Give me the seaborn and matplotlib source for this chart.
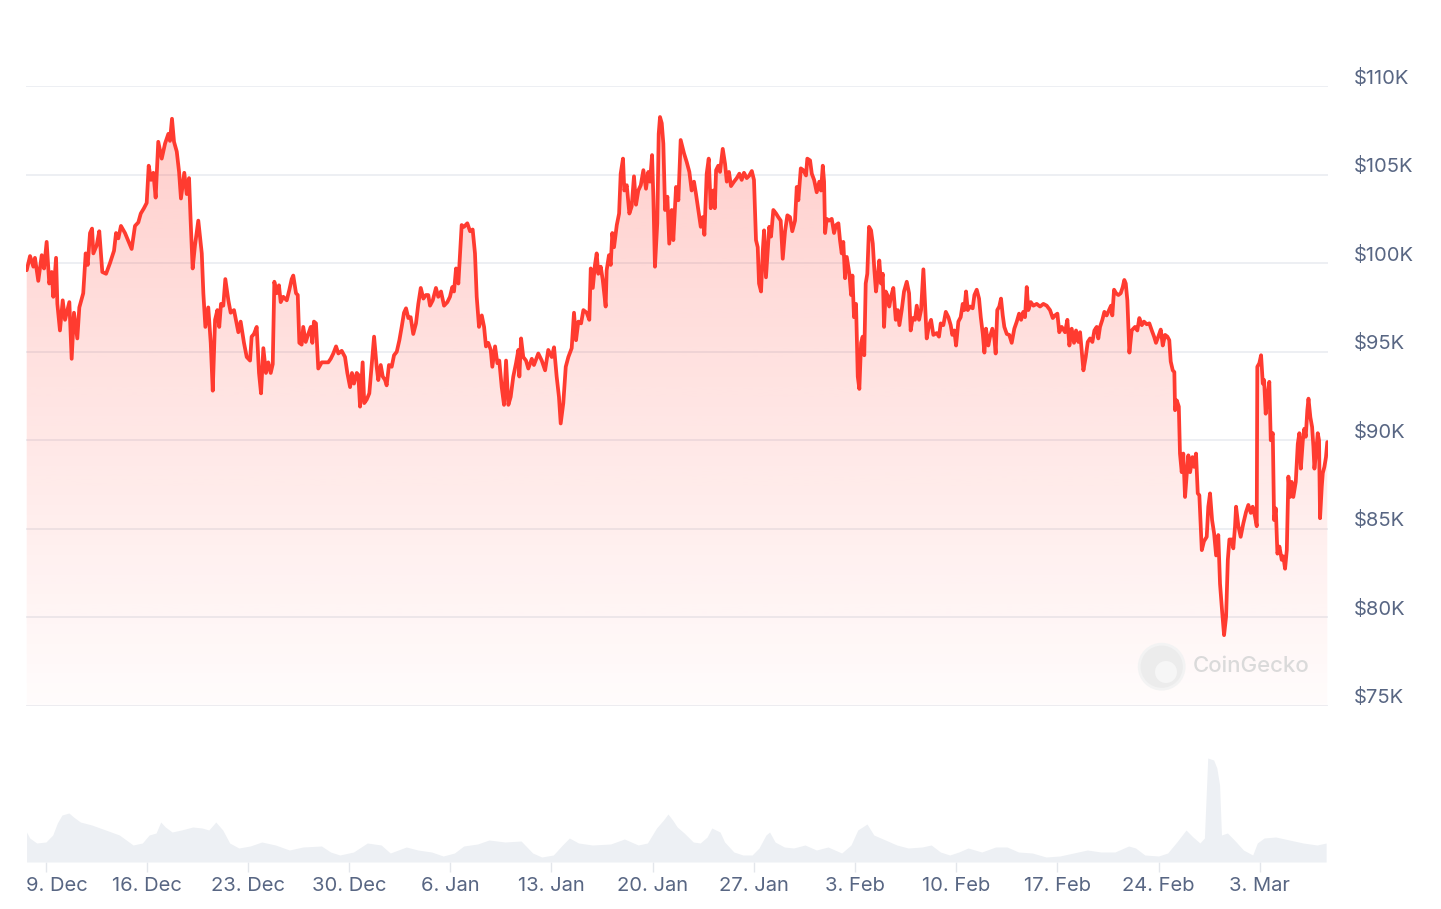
import numpy as np
import pandas as pd
import matplotlib
matplotlib.use("Agg")
import matplotlib.pyplot as plt
import matplotlib.dates as mdates
from matplotlib.patches import Polygon, Circle
import seaborn as sns

# ---------------- data ----------------
START = "2024-12-09"
# days since 9 Dec 2024 00:00
price_days = [
    -1.30, -1.07, -0.84, -0.73, -0.50, -0.26, -0.10, 0.08, 0.26, 0.43, 0.54, 0.73, 0.82, 1.00, 1.19, 1.35,
    1.65, 1.81, 1.97, 2.20, 2.34, 2.61, 2.78, 2.92, 3.08, 3.22, 3.31, 3.54, 3.72, 3.93, 4.19, 4.46, 4.74,
    4.88, 5.04, 5.22, 5.50, 5.96, 6.19, 6.42, 6.59, 6.81, 7.00, 7.14, 7.30, 7.46, 7.62, 7.80, 8.04, 8.27,
    8.50, 8.61, 8.75, 8.89, 9.08, 9.24, 9.37, 9.60, 9.77, 9.93, 10.04, 10.11, 10.18, 10.34, 10.57, 10.81,
    10.92, 11.06, 11.26, 11.43, 11.57, 11.73, 11.89, 12.02, 12.14, 12.30, 12.44, 12.65, 12.81, 13.04,
    13.34, 13.50, 13.73, 13.92,
    14.15, 14.26, 14.42, 14.61, 14.77, 14.91, 15.07, 15.25, 15.41, 15.58, 15.72, 15.83, 15.99, 16.15,
    16.27, 16.45, 16.69, 16.87, 17.03, 17.14, 17.33, 17.45, 17.56, 17.72, 17.83, 18.00, 18.18, 18.35,
    18.46, 18.57, 18.71, 18.87, 19.11, 19.34, 19.56, 19.73, 19.91, 20.10, 20.26, 20.49, 20.72, 20.88,
    21.07, 21.20, 21.34, 21.53, 21.64, 21.76, 21.94, 22.05, 22.22, 22.40, 22.52, 22.73, 22.91, 23.02,
    23.19, 23.33, 23.49, 23.60, 23.76, 23.95, 24.11, 24.30, 24.48, 24.64, 24.80, 24.94, 25.10, 25.26,
    25.44, 25.63, 25.79, 25.96, 26.14, 26.32, 26.48, 26.60, 26.79, 27.01, 27.17, 27.36, 27.57, 27.80,
    27.98, 28.14, 28.26, 28.40, 28.56,
    28.79, 28.95, 29.18, 29.37, 29.55, 29.71, 29.83, 29.99, 30.18, 30.34, 30.47, 30.63, 30.80, 30.91,
    31.10, 31.26, 31.39, 31.56, 31.72, 31.86, 32.02, 32.18, 32.36, 32.55, 32.71, 32.78, 32.90, 33.05,
    33.24, 33.40, 33.64, 33.79, 34.09, 34.33, 34.56, 34.78, 35.02, 35.18, 35.36, 35.52, 35.64, 35.82,
    35.99, 36.17, 36.40, 36.56, 36.70, 36.86, 37.05, 37.21, 37.44, 37.62, 37.72, 37.86, 38.01, 38.13,
    38.24, 38.41, 38.55, 38.75, 38.82, 38.98, 39.10, 39.21, 39.33, 39.52, 39.68, 39.79, 39.95, 40.04,
    40.21, 40.39, 40.55, 40.71, 40.85, 41.01, 41.18, 41.36, 41.54, 41.70, 41.82, 41.96, 42.05, 42.16,
    42.32, 42.42, 42.51, 42.63, 42.74, 42.86, 43.02, 43.15, 43.32, 43.43, 43.62, 43.78, 43.94,
    44.17, 44.36, 44.54, 44.70, 44.86, 45.00, 45.16, 45.33, 45.47, 45.58, 45.74, 45.88, 46.02, 46.20,
    46.30, 46.39, 46.54, 46.66, 46.85, 47.01, 47.13, 47.28, 47.42, 47.63, 47.82, 48.00, 48.16, 48.32,
    48.51, 48.69, 48.86, 49.01, 49.15, 49.27, 49.36, 49.50, 49.62, 49.71, 49.84, 49.96, 50.07, 50.19,
    50.35, 50.54, 50.69, 50.86, 51.00, 51.16, 51.32, 51.50, 51.66, 51.85, 51.97, 52.08, 52.25, 52.42,
    52.61, 52.70, 52.89, 53.01, 53.17, 53.35, 53.53, 53.65, 53.77, 53.86, 53.93, 54.04, 54.20, 54.39,
    54.55, 54.69, 54.85, 54.96, 55.08, 55.19, 55.31, 55.43, 55.61, 55.73, 55.82, 55.93, 56.07, 56.19,
    56.30, 56.42, 56.53, 56.64, 56.74, 56.85, 56.97, 57.11, 57.23, 57.34, 57.45, 57.57, 57.68, 57.80,
    57.92, 58.01, 58.12, 58.24, 58.37, 58.49, 58.65, 58.82, 58.96, 59.07, 59.23, 59.39, 59.58,
    59.74, 59.85, 59.99, 60.15, 60.27, 60.43, 60.57, 60.73, 60.84, 60.96, 61.12, 61.26, 61.42, 61.65,
    61.81, 61.93, 62.11, 62.28, 62.46, 62.62, 62.73, 62.87, 62.99, 63.15, 63.31, 63.45, 63.56, 63.68,
    63.80, 63.96, 64.14, 64.26, 64.42, 64.58, 64.70, 64.84, 64.95, 65.06, 65.22, 65.34, 65.50, 65.64,
    65.73, 65.84, 65.98, 66.10, 66.22, 66.33, 66.50, 66.67, 66.84, 67.02, 67.19, 67.35, 67.49, 67.64,
    67.76, 67.88, 67.99, 68.16, 68.34, 68.57, 68.80, 69.03, 69.26, 69.49, 69.68, 69.84, 70.00, 70.13,
    70.30, 70.53, 70.69, 70.83, 70.99, 71.15, 71.29, 71.45, 71.57, 71.68, 71.80, 71.96, 72.10, 72.26,
    72.42, 72.56, 72.72, 72.83, 72.95, 73.11, 73.25, 73.41, 73.57, 73.71, 73.80, 73.92, 74.06, 74.22,
    74.38, 74.52, 74.63, 74.73, 74.84,
    74.98, 75.14, 75.37, 75.53, 75.67, 75.84, 75.99, 76.18, 76.36, 76.53, 76.69, 76.82, 76.98, 77.15,
    77.29, 77.45, 77.61, 77.74, 77.84, 77.98, 78.09, 78.14, 78.26, 78.40, 78.48, 78.60, 78.71, 78.83,
    78.95, 79.06, 79.18, 79.34, 79.45, 79.59, 79.71, 79.82, 79.99, 80.14, 80.33, 80.44, 80.56, 80.70,
    80.84, 80.98, 81.13, 81.25, 81.39, 81.53, 81.67, 81.79, 81.90, 82.06, 82.17, 82.29, 82.36, 82.52,
    82.68, 82.86, 83.05, 83.21, 83.38, 83.51, 83.67, 83.79, 83.83, 83.97, 84.09, 84.21, 84.30, 84.41,
    84.53, 84.66, 84.76, 84.90, 84.99, 85.11, 85.22, 85.36, 85.52, 85.63, 85.75, 85.87, 85.98, 86.09,
    86.21, 86.32, 86.49, 86.63, 86.74, 86.84, 86.98, 87.08, 87.18, 87.29, 87.37, 87.50, 87.62, 87.71,
    87.78, 87.89, 88.01, 88.10, 88.17, 88.29, 88.36, 88.47, 88.58, 88.67,
]
# price in thousands of US dollars
price_k = [
    99.6, 100.4, 99.8, 100.3, 99.0, 100.45, 99.7, 101.2, 98.85, 99.5, 98.1, 100.3, 97.7, 96.2, 97.9, 96.8,
    97.8, 94.6, 97.2, 95.75, 97.5, 98.3, 100.55, 99.9, 101.7, 101.95, 100.55, 101.0, 101.8, 99.5, 99.4,
    100.0, 100.7, 101.7, 101.4, 102.1, 101.7, 100.8, 102.1, 102.3, 102.8, 103.1, 103.4, 105.5, 104.7,
    105.1, 103.7, 106.85, 105.9, 106.75, 107.3, 106.9, 108.15, 106.85, 106.3, 105.15, 103.65, 105.1,
    103.9, 104.8, 102.4, 101.1, 99.7, 101.0, 102.4, 100.55, 98.3, 96.4, 97.5, 95.5, 92.8, 96.8, 97.35,
    96.4, 97.7, 97.6, 99.1, 97.9, 97.2, 97.35, 96.1, 96.7, 95.5, 94.7,
    94.5, 95.85, 96.0, 96.4, 93.8, 92.65, 95.2, 93.8, 94.4, 93.8, 94.3, 98.95, 98.3, 98.75, 97.8, 98.1,
    97.9, 98.5, 99.1, 99.3, 98.3, 98.2, 95.5, 95.4, 96.4, 95.55, 96.0, 96.4, 95.5, 96.7, 96.6, 94.05,
    94.4, 94.4, 94.4, 94.6, 94.9, 95.3, 94.9, 95.05, 94.7, 93.8, 93.0, 93.8, 93.2, 93.8, 93.7, 91.9,
    94.4, 92.1, 92.3, 92.65, 93.8, 95.85, 94.15, 93.4, 94.25, 93.6, 93.4, 93.1, 94.25, 94.15, 94.8,
    95.0, 95.65, 96.4, 97.2, 97.45, 96.9, 96.95, 96.0, 96.6, 97.7, 98.6, 98.0, 98.2, 98.2, 97.6, 97.9,
    98.6, 98.1, 98.4, 97.6, 97.8, 98.1, 98.65, 98.4, 99.7, 98.85,
    102.15, 102.05, 102.25, 101.8, 101.9, 100.55, 98.1, 96.4, 97.05, 96.4, 95.3, 95.5, 95.1, 94.15,
    95.3, 94.35, 94.5, 93.0, 92.0, 94.5, 92.0, 92.45, 93.6, 94.35, 95.1, 93.6, 95.75, 94.7, 94.5,
    94.05, 94.6, 94.25, 94.9, 94.5, 93.95, 95.1, 94.7, 95.25, 93.6, 92.45, 90.95, 92.1, 94.15, 94.7,
    95.2, 97.2, 95.65, 96.7, 96.6, 97.35, 97.2, 96.8, 99.7, 98.6, 99.9, 100.55, 99.4, 99.8, 99.05,
    97.55, 99.6, 100.45, 99.9, 101.7, 100.9, 102.15, 102.8, 105.05, 105.9, 104.1, 104.4, 102.8, 103.2,
    104.9, 103.3, 104.1, 104.4, 105.25, 104.2, 105.15, 104.6, 106.1, 103.75, 99.8, 102.25, 107.3,
    108.25, 107.9, 106.75, 103.0, 103.75, 101.1, 103.0, 101.3, 104.3, 103.55, 106.95,
    106.2, 105.7, 105.15, 104.1, 104.6, 103.9, 103.0, 102.05, 102.6, 101.6, 105.05, 105.9, 103.1,
    104.1, 103.1, 105.25, 105.5, 105.15, 106.45, 105.6, 104.6, 105.15, 104.35, 104.6, 104.8, 105.05,
    104.7, 105.1, 104.8, 104.95, 105.2, 104.7, 101.3, 100.9, 98.85, 98.4, 100.7, 101.85, 99.2, 100.7,
    102.05, 101.5, 103.0, 102.8, 102.6, 102.4, 100.25, 101.8, 102.7, 102.6, 101.8, 102.4, 104.3,
    103.55, 105.35, 105.25, 104.95, 105.9, 105.8, 105.05, 104.7, 104.0, 104.6, 104.1, 105.5, 104.6,
    101.7, 102.5, 102.4, 102.5, 101.7, 102.15, 102.25, 101.3, 100.55, 101.2, 99.15, 100.35, 99.4,
    98.2, 99.3, 96.95, 97.7, 93.6, 92.9, 95.5, 95.85, 94.8, 98.85, 99.4, 102.05, 101.85, 101.1, 99.6,
    98.4, 99.2, 100.15, 98.85, 99.4, 96.4, 98.4, 98.2, 97.55, 98.1, 98.6, 96.8, 97.35, 96.5, 97.35,
    98.4, 98.95,
    98.3, 96.2, 96.9, 96.8, 97.6, 96.8, 97.35, 99.65, 97.8, 95.75, 96.5, 96.8, 95.95, 96.05, 95.85,
    96.6, 96.5, 97.25, 96.95, 96.5, 95.95, 96.2, 95.35, 96.7, 96.95, 97.7, 97.35, 98.4, 97.35, 97.55,
    97.45, 98.2, 98.5, 98.0, 96.95, 96.0, 94.95, 96.3, 95.35, 95.85, 96.3, 95.75, 94.9, 97.35, 97.55,
    98.0, 97.05, 96.4, 96.0, 95.95, 95.5, 96.3, 96.7, 97.15, 96.8, 97.25, 96.95, 98.65, 97.35, 97.8,
    97.6, 97.7, 97.55, 97.7, 97.6, 97.35, 96.9, 97.05, 97.15, 96.1, 96.4, 96.1, 96.8, 95.35, 96.3,
    95.5, 96.2, 95.55, 96.1, 95.1, 93.95, 94.7, 95.55, 95.75, 95.55, 96.2, 96.4, 95.75, 96.4, 96.8,
    97.25, 97.05, 97.35, 97.6, 97.05, 98.5, 98.3, 98.2, 98.3, 98.65, 99.05, 98.85, 97.9,
    94.95, 96.2, 96.4, 96.2, 96.9, 96.5, 96.7, 96.55, 96.6, 96.2, 95.85, 95.5, 95.85, 96.25, 95.35,
    95.95, 95.85, 95.65, 94.45, 93.95, 93.85, 91.7, 92.25, 91.9, 89.25, 88.2, 89.25, 86.8, 88.1,
    89.15, 88.2, 89.05, 88.5, 89.25, 87.0, 86.9, 83.8, 84.3, 84.55, 86.25, 87.0, 85.5, 84.75, 83.5,
    84.65, 81.9, 80.4, 79.0, 80.05, 83.25, 84.4, 84.4, 83.9, 85.15, 86.25, 85.15, 84.55, 85.3, 85.95,
    86.35, 85.9, 86.25, 85.7, 85.15, 94.15, 94.35, 94.8, 93.2, 93.4, 91.5, 92.45, 93.3, 90.0, 90.4,
    85.5, 86.15, 83.6, 84.0, 83.25, 83.45, 82.75, 83.8, 87.95, 86.8, 87.65, 86.8, 87.65, 89.8, 90.4,
    88.4, 90.0, 90.65, 90.2, 91.7, 92.35, 91.3, 90.75, 89.65, 88.4, 89.25, 90.4, 90.0, 85.6, 87.4,
    88.15, 88.5, 89.05, 89.9,
]

# 24h traded volume (billions of US dollars, relative scale of the lower panel)
volume_days = [
    -1.31, -1.09, -0.61, 0.03, 0.50, 0.82, 1.14, 1.62, 1.94, 2.41, 3.20, 4.16, 5.11, 6.06, 6.70, 7.17,
    7.65, 7.97, 8.29, 8.76, 9.40, 10.19, 10.83, 11.30, 11.78, 12.26, 12.74, 13.37, 14.16, 14.96, 15.91,
    16.87, 17.81, 19.09, 19.72, 20.36, 21.31, 22.26, 23.22, 23.85, 24.96, 25.76, 26.71, 27.51, 28.29,
    28.93, 29.89, 30.68, 31.79, 32.90, 33.70, 34.33, 35.13, 35.76, 36.24, 36.87, 37.83, 39.09, 40.05,
    41.00, 41.64, 42.27, 42.75, 43.06, 43.38, 43.70, 44.18, 44.81, 45.29, 45.77, 46.09, 46.66, 46.98,
    47.62, 48.25, 48.88, 49.36, 49.84, 50.09, 50.47, 51.11, 51.75, 52.54, 53.33, 54.13, 55.08, 55.72,
    56.19, 56.83, 57.30, 58.10, 58.89, 59.68, 60.64, 61.27, 61.91, 62.55, 63.18, 63.82, 64.77, 65.72,
    66.52, 67.31, 68.26, 69.22, 70.17, 71.12, 72.07, 73.02, 73.98, 74.93, 75.41, 76.05, 77.00, 77.63,
    78.26, 78.90, 79.38, 79.86, 80.17, 80.40, 80.81, 81.03, 81.22, 81.35, 81.76, 82.24, 82.87, 83.51,
    83.83, 84.30, 85.10, 86.05, 87.00, 87.96, 88.59,
]
volume_b = [
    30, 24, 19, 20, 27, 39, 47, 49, 45, 40, 37, 32, 27, 17, 19, 27, 29, 40, 35, 30, 32, 35, 34, 32, 40,
    32, 19, 14, 16, 20, 17, 12, 15, 16, 10, 7, 10, 19, 17, 9, 15, 12, 10, 6, 9, 16, 18, 22, 20, 21, 9,
    5, 7, 17, 24, 19, 17, 18, 23, 17, 19, 34, 42, 48, 42, 35, 29, 20, 19, 25, 34, 30, 20, 10, 7, 7, 14,
    27, 30, 20, 15, 14, 17, 12, 15, 9, 17, 32, 38, 27, 22, 17, 14, 15, 17, 10, 7, 10, 14, 10, 15, 15,
    10, 9, 5, 6, 9, 12, 10, 10, 16, 14, 7, 6, 9, 20, 32, 25, 19, 24, 104, 102, 94, 77, 27, 29, 22, 12,
    7, 19, 24, 25, 22, 19, 17, 19,
]

y_ticks = [75, 80, 85, 90, 95, 100, 105, 110]
y_labels = ["$75K", "$80K", "$85K", "$90K", "$95K", "$100K", "$105K", "$110K"]
x_ticks = list(pd.date_range(START, periods=13, freq="7D"))
x_labels = ["9. Dec", "16. Dec", "23. Dec", "30. Dec", "6. Jan", "13. Jan", "20. Jan",
            "27. Jan", "3. Feb", "10. Feb", "17. Feb", "24. Feb", "3. Mar"]

# ---------------- style ----------------
sns.set_theme(style="white")
plt.rcParams["font.family"] = ["Inter", "DejaVu Sans"]

LINE = "#ff3b30"
TEXT = "#586683"
GRID = "#eceef2"
VOL = "#edf0f4"
FS = 14.5

base = pd.Timestamp(START)
price_df = pd.DataFrame({
    "time": base + pd.to_timedelta(price_days, unit="D"),
    "price": price_k,
})
vol_df = pd.DataFrame({
    "time": base + pd.to_timedelta(volume_days, unit="D"),
    "volume": volume_b,
})

W, H = 1441, 909
fig = plt.figure(figsize=(W / 100, H / 100), dpi=100)
fig.patch.set_facecolor("white")

left, right = 26, 1328
ax = fig.add_axes([left / W, (H - 706) / H, (right - left) / W, 620 / H])
axv = fig.add_axes([left / W, (H - 862) / H, (right - left) / W, 150 / H], sharex=ax)
axv.patch.set_alpha(0)
ax.patch.set_alpha(0)

x0 = base + pd.Timedelta(days=-1.349)
x1 = base + pd.Timedelta(days=88.72)

# volume panel
axv.fill_between(vol_df["time"], 0, vol_df["volume"], color=VOL, lw=0, zorder=1)
axv.set_ylim(0, 150)

# price gradient fill
tnum = mdates.date2num(price_df["time"])
verts = np.column_stack([
    np.concatenate([tnum, [tnum[-1], tnum[0]]]),
    np.concatenate([price_df["price"].values, [75, 75]]),
])
clip = Polygon(verts, closed=True, transform=ax.transData, facecolor="none", edgecolor="none")
ax.add_patch(clip)
grad = np.zeros((256, 1, 4))
rgb = np.array([255, 59, 48]) / 255.0
grad[:, 0, :3] = rgb
grad[:, 0, 3] = np.linspace(0.015, 0.26, 256)
im = ax.imshow(grad, extent=[mdates.date2num(x0), mdates.date2num(x1), 75, 110],
               aspect="auto", origin="lower", zorder=1, interpolation="bilinear")
im.set_clip_path(clip)

sns.lineplot(data=price_df, x="time", y="price", ax=ax, color=LINE, lw=2.7,
             estimator=None, sort=False, zorder=3)
for ln in ax.get_lines():
    ln.set_solid_joinstyle("round")

ax.set_xlim(x0, x1)
ax.set_ylim(75, 110)
ax.set_yticks(y_ticks)
ax.set_yticklabels([])
ax.tick_params(axis="y", length=0)
ax.tick_params(axis="x", which="both", bottom=False, labelbottom=False)
ax.grid(axis="y", color=GRID, lw=1.3)
ax.grid(axis="x", visible=False)
ax.set_axisbelow(True)
ax.set_xlabel("")
ax.set_ylabel("")
for s in ax.spines.values():
    s.set_visible(False)

ytrans = ax.get_yaxis_transform()
for v, lab in zip(y_ticks, y_labels):
    ax.annotate(lab, xy=((1354 - left) / (right - left), v), xycoords=ytrans,
                xytext=(0, 8 * 0.72), textcoords="offset points",
                ha="left", va="center", fontsize=FS, color=TEXT, annotation_clip=False)

# volume axis / x ticks
axv.set_xticks(x_ticks)
axv.set_xticklabels([])
axv.tick_params(axis="x", length=7.5, width=1, color="#e3e6eb", bottom=True, labelbottom=False)
axv.tick_params(axis="y", left=False, labelleft=False)
axv.grid(False)
for s in axv.spines.values():
    s.set_visible(False)
axv.set_xlim(x0, x1)

xtrans = axv.get_xaxis_transform()
for i, (t, lab) in enumerate(zip(x_ticks, x_labels)):
    if i == 0:
        axv.text(x0, -24 / 150, lab, transform=xtrans, ha="left", va="center",
                 fontsize=FS, color=TEXT)
    else:
        axv.text(t, -24 / 150, lab, transform=xtrans, ha="center", va="center",
                 fontsize=FS, color=TEXT)

# CoinGecko watermark
fig.add_artist(Circle((1161.7 / 100, (H - 666.7) / 100), 0.225, transform=fig.dpi_scale_trans,
                      facecolor="#ececec", edgecolor="#f3f3f3", lw=2, zorder=5))
fig.add_artist(Circle((1166 / 100, (H - 672) / 100), 0.11, transform=fig.dpi_scale_trans,
                      facecolor="#f6f6f6", edgecolor="none", zorder=6))
fig.text(1193 / W, (H - 666) / H, "CoinGecko", fontsize=16, color="#dadada",
         fontweight="medium", ha="left", va="center")

fig.savefig("out.png", dpi=100, facecolor="white")
